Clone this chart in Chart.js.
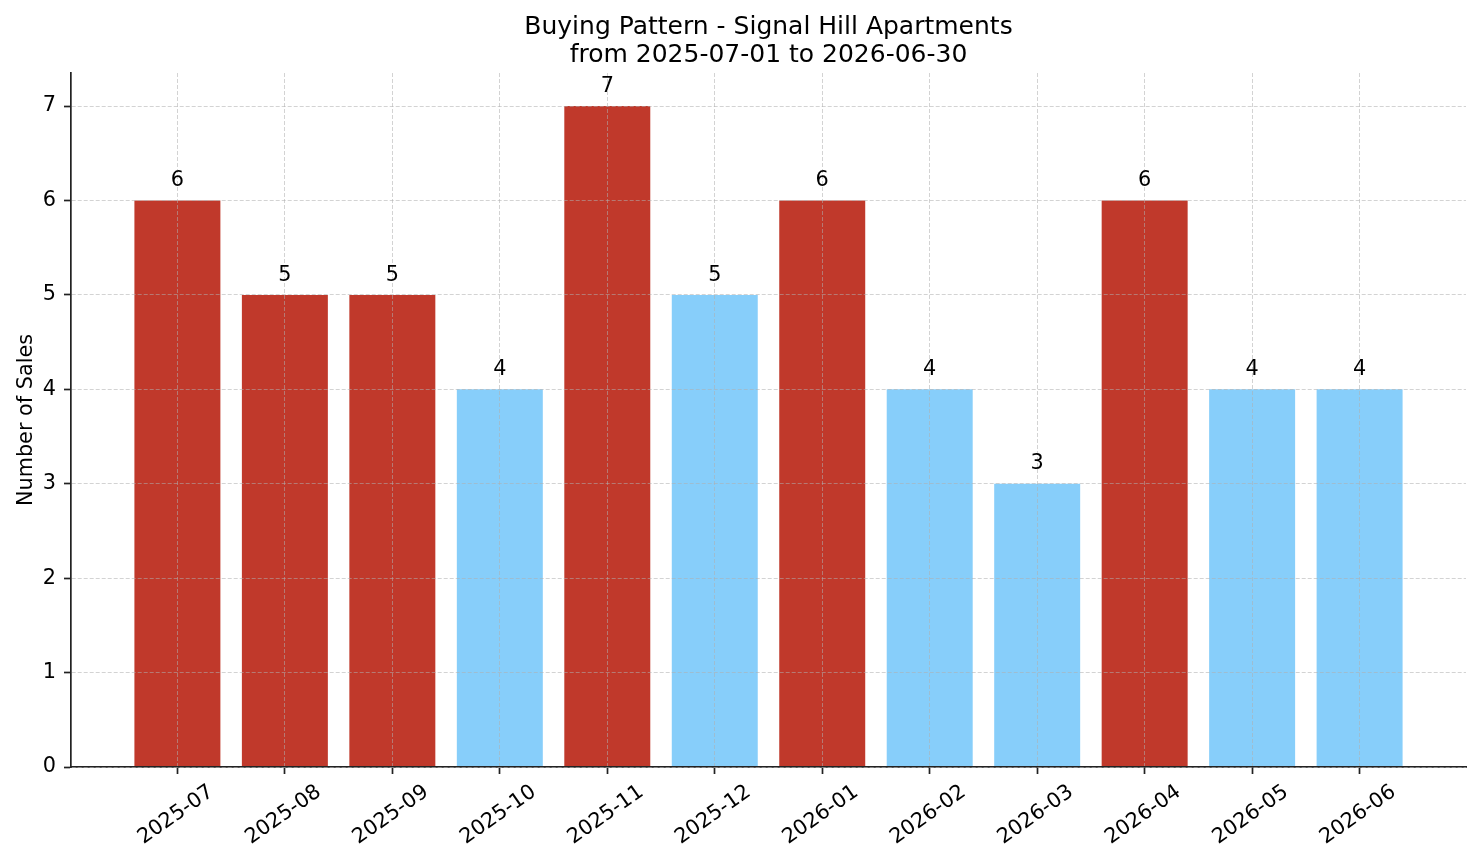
<!DOCTYPE html>
<html>
<head>
<meta charset="utf-8">
<title>Buying Pattern</title>
<script src="https://cdn.jsdelivr.net/npm/chart.js@4.4.0/dist/chart.umd.min.js"></script>
<style>
    body { margin: 0; background: #fff; }
    #wrap { width: 1481px; height: 863px; position: relative; }
</style>
</head>
<body>
<div id="wrap"><canvas id="barChart"></canvas></div>
<script>
// data
var months = ["2025-07", "2025-08", "2025-09", "2025-10", "2025-11", "2025-12",
              "2026-01", "2026-02", "2026-03", "2026-04", "2026-05", "2026-06"];
var sales = [6, 5, 5, 4, 7, 5, 6, 4, 3, 6, 4, 4];
// months drawn in the dark red colour
var highMonths = ["2025-07", "2025-08", "2025-09", "2025-11", "2026-01", "2026-04"];
var yTicks = [0, 1, 2, 3, 4, 5, 6, 7];
var titleLines = ["Buying Pattern - Signal Hill Apartments", "from 2025-07-01 to 2026-06-30"];
var yLabel = "Number of Sales";

var FONT = "'DejaVu Sans', 'Liberation Sans', sans-serif";
var RED = "#c0392b";
var BLUE = "#87cefa";
var AXIS = "#222222";
var GRID = "rgba(175,175,175,0.55)";

var barColors = months.map(function (m) {
    return highMonths.indexOf(m) >= 0 ? RED : BLUE;
});

var extras = {
    id: "extras",
    afterDraw: function (chart) {
        var ctx = chart.ctx;
        var area = chart.chartArea;
        var xs = chart.scales.x;
        var ys = chart.scales.y;
        ctx.save();
        ctx.fillStyle = "#000";

        // title
        ctx.font = "25px " + FONT;
        ctx.textAlign = "center";
        ctx.textBaseline = "alphabetic";
        var cx = (area.left + area.right) / 2;
        ctx.fillText(titleLines[0], cx, 33.5);
        ctx.fillText(titleLines[1], cx, 62);

        // y axis label
        ctx.font = "20.8px " + FONT;
        ctx.save();
        ctx.translate(31.5, (area.top + area.bottom) / 2);
        ctx.rotate(-Math.PI / 2);
        ctx.textAlign = "center";
        ctx.textBaseline = "alphabetic";
        ctx.fillText(yLabel, 0, 0);
        ctx.restore();

        // rotated month labels, centred under each tick
        for (var i = 0; i < months.length; i++) {
            var x = xs.getPixelForValue(i);
            ctx.save();
            ctx.translate(x - 1.5, area.bottom + 48);
            ctx.rotate(-35 * Math.PI / 180);
            ctx.textAlign = "center";
            ctx.textBaseline = "middle";
            ctx.fillText(months[i], 0, 0);
            ctx.restore();
        }

        // values above bars
        ctx.textAlign = "center";
        ctx.textBaseline = "alphabetic";
        for (var k = 0; k < sales.length; k++) {
            var px = xs.getPixelForValue(k);
            var py = ys.getPixelForValue(sales[k] + 0.1) - 0.236 * 20.8;
            ctx.fillText(String(sales[k]), px, py);
        }
        ctx.restore();
    }
};

var config = {
    type: "bar",
    data: {
        datasets: [{
            label: "Number of Sales",
            data: sales.map(function (v, i) { return { x: i, y: v }; }),
            backgroundColor: barColors,
            borderWidth: 0,
            barPercentage: 0.8,
            categoryPercentage: 1.0
        }]
    },
    options: {
        responsive: true,
        maintainAspectRatio: false,
        animation: false,
        devicePixelRatio: 1,
        layout: { padding: { top: 73, right: 15, left: 0, bottom: 0 } },
        plugins: {
            legend: { display: false },
            title: { display: false },
            tooltip: { enabled: false }
        },
        scales: {
            x: {
                type: "linear",
                min: -0.99,
                max: 11.99,
                offset: false,
                afterBuildTicks: function (scale) {
                    scale.ticks = months.map(function (m, i) { return { value: i }; });
                },
                afterFit: function (scale) { scale.height = 96; },
                ticks: {
                    stepSize: 1,
                    includeBounds: false,
                    maxRotation: 0,
                    autoSkip: false,
                    callback: function () { return ""; }
                },
                grid: {
                    z: 1,
                    offset: false,
                    color: GRID,
                    lineWidth: 1,
                    drawTicks: true,
                    tickLength: 7,
                    tickColor: AXIS,
                    tickWidth: 1.7,
                    tickBorderDash: []
                },
                border: { display: true, color: AXIS, width: 1.7, dash: [4, 2], z: 1 }
            },
            y: {
                type: "linear",
                min: 0,
                max: 7.35,
                afterBuildTicks: function (scale) {
                    scale.ticks = yTicks.map(function (v) { return { value: v }; });
                },
                afterFit: function (scale) { scale.width = 71; },
                ticks: {
                    stepSize: 1,
                    includeBounds: false,
                    padding: 8,
                    color: "#000",
                    font: { family: FONT, size: 20.8 }
                },
                grid: {
                    z: 1,
                    color: GRID,
                    lineWidth: 1,
                    drawTicks: true,
                    tickLength: 7,
                    tickColor: AXIS,
                    tickWidth: 1.7,
                    tickBorderDash: []
                },
                border: { display: true, color: AXIS, width: 1.7, dash: [4, 2], z: 1 }
            }
        }
    },
    plugins: [extras]
};

var barChart = new Chart(document.getElementById("barChart"), config);
</script>
</body>
</html>
